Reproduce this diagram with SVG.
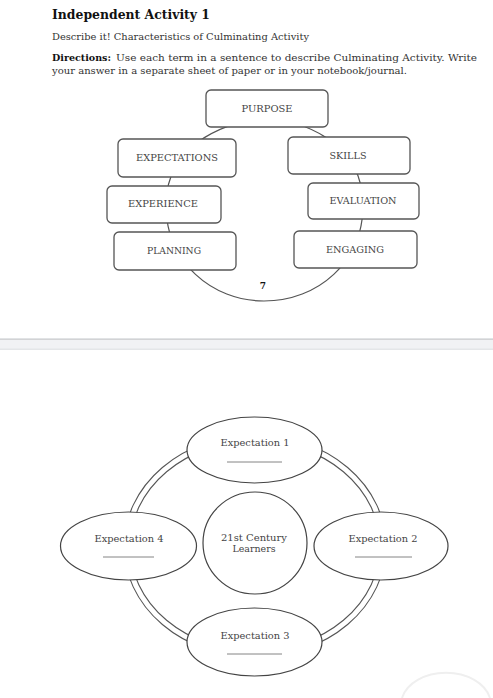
<svg xmlns="http://www.w3.org/2000/svg" width="493" height="698" viewBox="0 0 493 698">
<style>
.t{font-family:"DejaVu Serif","Liberation Serif",serif;fill:#333}
.b{font-weight:bold;fill:#111}
.box rect{fill:#fff;stroke:#555;stroke-width:1.3}
.box text{font-family:"DejaVu Serif","Liberation Serif",serif;font-size:8.5px;fill:#444;text-anchor:middle}
.ov ellipse{fill:#fff;stroke:#444;stroke-width:1.2}
.ov text{font-family:"DejaVu Serif","Liberation Serif",serif;font-size:9.5px;fill:#444;text-anchor:middle}
.ov line{stroke:#666;stroke-width:0.8}
.ring{fill:none;stroke:#555;stroke-width:1.1}
</style>
<rect width="493" height="698" fill="#fff"/>
<text class="t b" x="52" y="19" font-size="13" textLength="158" lengthAdjust="spacingAndGlyphs">Independent Activity 1</text>
<text class="t" x="52" y="40" font-size="9.5" textLength="257" lengthAdjust="spacingAndGlyphs">Describe it! Characteristics of Culminating Activity</text>
<text class="t b" x="52" y="60.5" font-size="9.5" textLength="59" lengthAdjust="spacingAndGlyphs">Directions:</text>
<text class="t" x="116" y="60.5" font-size="9.5" textLength="361" lengthAdjust="spacingAndGlyphs">Use each term in a sentence to describe Culminating Activity. Write</text>
<text class="t" x="52" y="73.5" font-size="9.5" textLength="355" lengthAdjust="spacingAndGlyphs">your answer in a separate sheet of paper or in your notebook/journal.</text>

<g id="connectors">
<path d="M266,119 C235,119 166,140 166,205 C166,262 212,301 264,301 C318,301 363,262 363,205 C363,140 297,119 266,119 Z" fill="none" stroke="#555" stroke-width="1.2"/>
</g>
<g id="purpose" class="box"><rect x="206" y="90" width="122" height="37" rx="5"/><text x="267" y="111.5" textLength="51" lengthAdjust="spacingAndGlyphs">PURPOSE</text></g>
<g id="expectations" class="box"><rect x="118" y="139" width="118" height="38" rx="5"/><text x="177" y="161" textLength="82" lengthAdjust="spacingAndGlyphs">EXPECTATIONS</text></g>
<g id="skills" class="box"><rect x="288" y="137" width="122" height="37" rx="5"/><text x="348" y="158.5" textLength="37" lengthAdjust="spacingAndGlyphs">SKILLS</text></g>
<g id="experience" class="box"><rect x="107" y="186" width="114" height="37" rx="5"/><text x="163" y="207" textLength="70" lengthAdjust="spacingAndGlyphs">EXPERIENCE</text></g>
<g id="evaluation" class="box"><rect x="308" y="183" width="111" height="36" rx="5"/><text x="363" y="204" textLength="67" lengthAdjust="spacingAndGlyphs">EVALUATION</text></g>
<g id="planning" class="box"><rect x="114" y="232" width="122" height="38" rx="5"/><text x="174" y="254" textLength="54" lengthAdjust="spacingAndGlyphs">PLANNING</text></g>
<g id="engaging" class="box"><rect x="294" y="231" width="123" height="37" rx="5"/><text x="355" y="252.5" textLength="58" lengthAdjust="spacingAndGlyphs">ENGAGING</text></g>
<text class="t b" x="263" y="289" font-size="9" text-anchor="middle" fill="#333">7</text>

<rect x="0" y="338" width="493" height="12" fill="#f1f2f4"/>
<rect x="0" y="338.5" width="493" height="1.5" fill="#d2d3d5"/>
<rect x="0" y="348.5" width="493" height="1.5" fill="#e4e6e8"/>

<g id="ring">
<ellipse class="ring" cx="255" cy="546" rx="131" ry="111"/>
<ellipse class="ring" cx="255" cy="546" rx="125" ry="105"/>
</g>
<g id="center" class="ov"><ellipse cx="255" cy="543" rx="52" ry="51"/>
<text x="254" y="540.5" textLength="66" lengthAdjust="spacingAndGlyphs">21st Century</text>
<text x="254" y="552" textLength="43" lengthAdjust="spacingAndGlyphs">Learners</text></g>
<g id="exp1" class="ov"><ellipse cx="254.5" cy="450" rx="67.5" ry="33"/><text x="255" y="446" textLength="69" lengthAdjust="spacingAndGlyphs">Expectation 1</text><line x1="227" y1="462" x2="282" y2="462"/></g>
<g id="exp2" class="ov"><ellipse cx="381" cy="546" rx="67" ry="34"/><text x="383" y="541.5" textLength="69" lengthAdjust="spacingAndGlyphs">Expectation 2</text><line x1="355" y1="557" x2="412" y2="557"/></g>
<g id="exp3" class="ov"><ellipse cx="254.5" cy="642" rx="67.5" ry="34"/><text x="255" y="638.5" textLength="69" lengthAdjust="spacingAndGlyphs">Expectation 3</text><line x1="227" y1="654" x2="282" y2="654"/></g>
<g id="exp4" class="ov"><ellipse cx="128.5" cy="546" rx="68" ry="34"/><text x="129" y="541.5" textLength="69" lengthAdjust="spacingAndGlyphs">Expectation 4</text><line x1="103" y1="557" x2="154" y2="557"/></g>
<path d="M402 698 A45 32 0 0 1 490 698" fill="none" stroke="#efefef" stroke-width="2"/>
</svg>
